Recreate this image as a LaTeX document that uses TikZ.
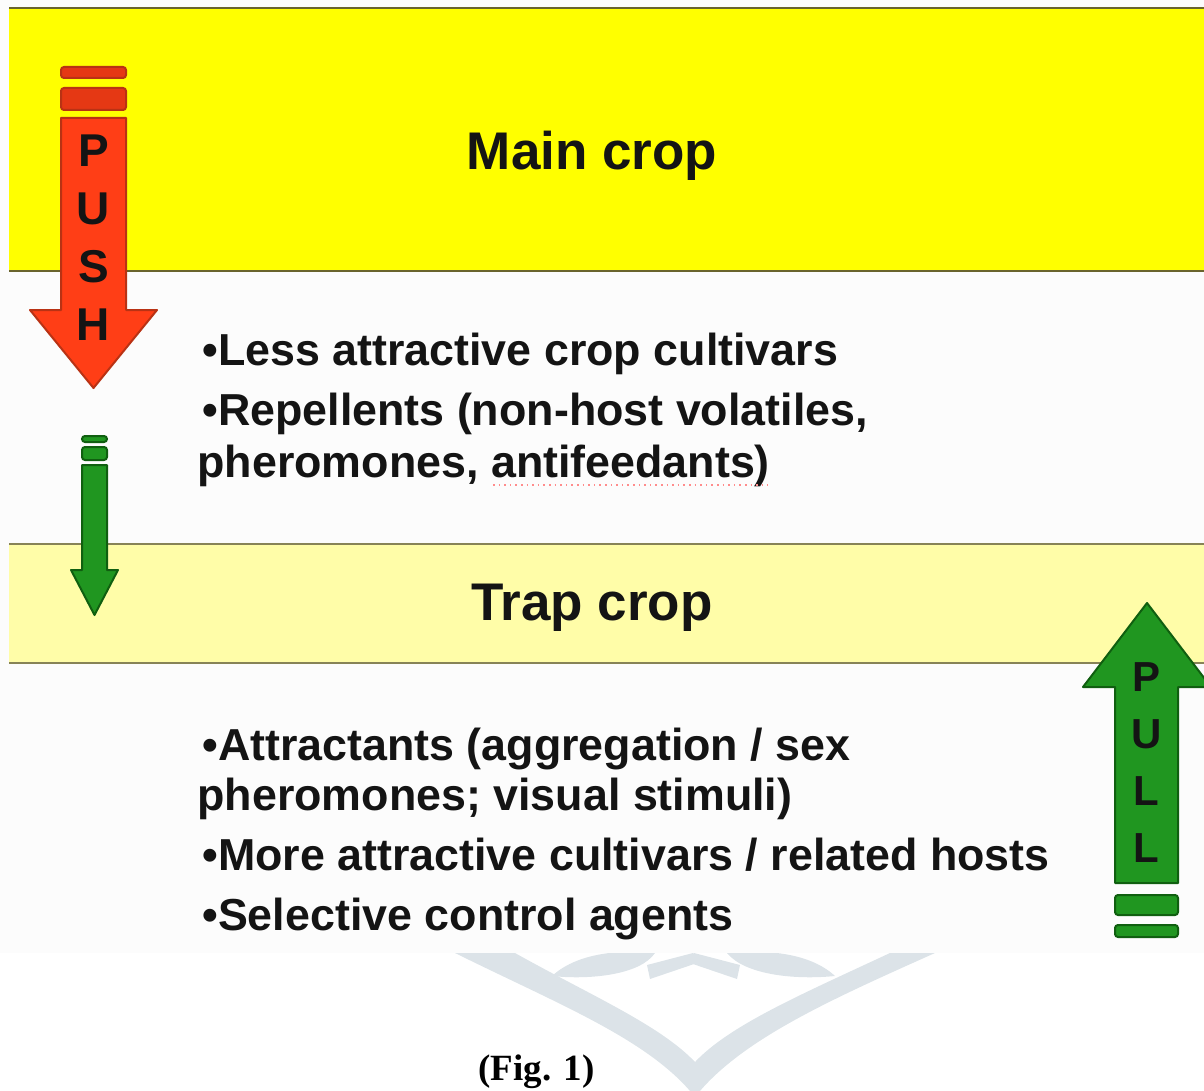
\documentclass[tikz,border=0pt]{standalone}
\usepackage{fontspec}
\setmainfont{Liberation Sans}
\newfontfamily\capfont{Liberation Serif}
\usetikzlibrary{positioning}
\definecolor{mainyellow}{RGB}{255,255,0}
\definecolor{trapyellow}{RGB}{255,253,168}
\definecolor{bandline}{RGB}{105,100,45}
\definecolor{pushred}{RGB}{255,62,22}
\definecolor{pushedge}{RGB}{185,50,20}
\definecolor{pullgreen}{RGB}{32,150,32}
\definecolor{pulledge}{RGB}{16,95,16}
\definecolor{wmark}{RGB}{220,227,232}
\definecolor{paper}{RGB}{252,252,252}
\definecolor{inkblack}{RGB}{20,20,20}

\begin{document}
\begin{tikzpicture}[x=0.5pt, y=-0.5pt, color=inkblack,
  band/.style={rectangle, inner sep=0, minimum width=600pt, anchor=north west},
  title/.style={font=\fontsize{26.5}{31}\selectfont\bfseries, anchor=base, inner sep=0},
  item/.style={font=\fontsize{22.4}{26}\selectfont\bfseries, anchor=base west, inner sep=0},
  letter/.style={font=\fontsize{23}{27}\selectfont\bfseries, inner sep=0},
  pushbody/.style={fill=pushred, draw=pushedge, line width=1pt, line join=round},
  pushbar/.style={fill=pushred!90!black, draw=pushedge, line width=1pt, rounded corners=1.5pt},
  pullbody/.style={fill=pullgreen, draw=pulledge, line width=1pt, line join=round},
  pullbar/.style={fill=pullgreen, draw=pulledge, line width=1pt, rounded corners=1.5pt}]
\useasboundingbox (0,0) rectangle (1204,1091);

% watermark under the page
\fill[wmark] (455,953) .. controls (560,1005) and (650,1040) .. (695,1097)
  .. controls (740,1040) and (830,1000) .. (935,953) -- (890,953)
  .. controls (800,995) and (730,1025) .. (695,1062)
  .. controls (660,1025) and (590,995) .. (515,953) -- cycle;
\fill[wmark] (552,976) .. controls (580,950) and (630,950) .. (655,953) .. controls (640,975) and (590,980) .. cycle;
\fill[wmark] (835,976) .. controls (807,950) and (757,950) .. (727,953) .. controls (745,975) and (795,980) .. cycle;
\fill[wmark] (647,965) -- (693,953) -- (700,962) -- (650,979) -- cycle;
\fill[wmark] (740,965) -- (694,953) -- (687,962) -- (737,979) -- cycle;
\fill[paper] (0,0) rectangle (1204,953);

% bands
\node[band, fill=mainyellow, minimum height=131pt] (mainband) at (9,8) {};
\node[band, fill=trapyellow, minimum height=59pt] (trapband) at (9,544) {};
\draw[bandline, line width=1pt] (mainband.north west) -- (mainband.north east);
\draw[bandline, line width=1pt] (mainband.south west) -- (mainband.south east);
\draw[bandline!80, line width=1pt] (trapband.north west) -- (trapband.north east);
\draw[bandline!80, line width=1pt] (trapband.south west) -- (trapband.south east);

\node[title] (maincrop) at (592,170) {Main crop};
\node[title] (trapcrop) at (592,620) {Trap crop};

% push side
\node[item] (less) at (202,365) {•Less attractive crop cultivars};
\node[item] (repel) at (202,425) {•Repellents (non-host volatiles,};
\node[item] (repeltwo) at (197,477) {pheromones, antifeedants)};
\draw[red!45, line width=0.8pt, dotted] (493,485) -- (768,485);

% pull side
\node[item] (attract) at (202,760) {•Attractants (aggregation / sex};
\node[item] (attracttwo) at (197,810) {pheromones; visual stimuli)};
\node[item] (hosts) at (202,870) {•More attractive cultivars / related hosts};
\node[item] (agents) at (202,930) {•Selective control agents};

% arrows
\draw[pushbar] (61,67) rectangle (126,78);
\draw[pushbar] (61,88) rectangle (126,110);
\draw[pushbody] (61,118) -- (126,118) -- (126,310) -- (157,310) -- (93.5,388)
  -- (30,310) -- (61,310) -- cycle;
\foreach \l [count=\i] in {P,U,S,H}
  \node[letter] (push\i) at (93.5,{93+58*\i}) {\l};

\draw[pullbar] (82,436) rectangle (107,442);
\draw[pullbar] (82,447) rectangle (107,460);
\draw[pullbody] (82,465) -- (107,465) -- (107,570) -- (118,570) -- (94.5,615)
  -- (71,570) -- (82,570) -- cycle;

\draw[pullbody] (1115,883) -- (1115,687) -- (1083,687) -- (1147,603) -- (1211,687)
  -- (1178,687) -- (1178,883) -- cycle;
\draw[pullbar] (1115,895) rectangle (1178,915);
\draw[pullbar] (1115,925) rectangle (1178,937);
\foreach \l [count=\i] in {P,U,L,L}
  \node[letter, font=\fontsize{21}{25}\selectfont\bfseries] (pull\i) at (1146.5,{620+57*\i}) {\l};

\node[font=\capfont\bfseries\fontsize{18.5}{22}\selectfont, anchor=base west, inner sep=0, text=black] (figcap) at (478,1080) {(Fig. 1)};
\end{tikzpicture}
\end{document}
